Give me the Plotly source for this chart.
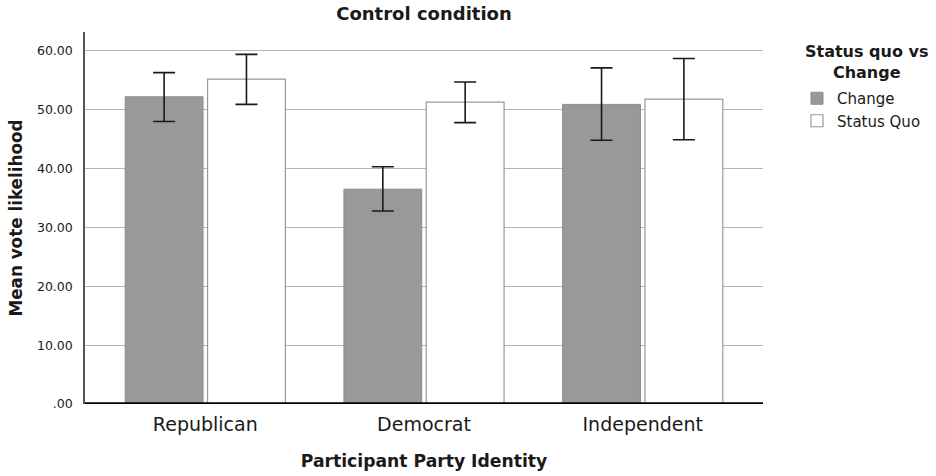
import plotly.graph_objects as go

categories = ["Republican", "Democrat", "Independent"]
change_vals = [52.2, 36.5, 50.9]
change_hi = [56.3, 40.3, 57.1]
change_lo = [48.0, 32.8, 44.8]
sq_vals = [55.2, 51.3, 51.8]
sq_hi = [59.4, 54.7, 58.7]
sq_lo = [50.9, 47.8, 44.9]
y_ticks = [0, 10, 20, 30, 40, 50, 60]
y_tick_labels = [".00", "10.00", "20.00", "30.00", "40.00", "50.00", "60.00"]

FONT = "DejaVu Sans"

def err(vals, hi, lo):
    return dict(type="data", symmetric=False,
                array=[h - v for h, v in zip(hi, vals)],
                arrayminus=[v - l for v, l in zip(vals, lo)],
                color="#1a1a1a", thickness=1.6, width=11)

fig = go.Figure()
fig.add_trace(go.Bar(name="Change", x=categories, y=change_vals,
                     marker=dict(color="#999999", line=dict(color="#8c8c8c", width=1)),
                     error_y=err(change_vals, change_hi, change_lo)))
fig.add_trace(go.Bar(name="Status Quo", x=categories, y=sq_vals,
                     marker=dict(color="#ffffff", line=dict(color="#999999", width=1.2)),
                     error_y=err(sq_vals, sq_hi, sq_lo)))

fig.update_layout(
    width=936, height=476,
    margin=dict(l=85, r=173, t=32, b=72, autoexpand=False),
    paper_bgcolor="#ffffff", plot_bgcolor="#ffffff",
    barmode="group", bargap=0.247, bargroupgap=0.055,
    font=dict(family=FONT, color="#1a1a1a", size=14),
    title=dict(text="<b>Control condition</b>", x=424 / 936, xanchor="center",
               y=1 - 14 / 476, yanchor="middle", font=dict(size=18, family=FONT)),
    showlegend=True,
    legend=dict(x=(797 - 85) / 678, xanchor="left", y=(404 - 82) / 372, yanchor="top",
                font=dict(size=15, family=FONT), traceorder="normal",
                tracegroupgap=0, bgcolor="rgba(0,0,0,0)"),
    xaxis=dict(range=[-0.55, 2.55], showgrid=False, ticks="", showline=False,
               automargin=False, ticklabelstandoff=7, tickfont=dict(size=19, family=FONT),
               title=dict(text="<b>Participant Party Identity</b>", font=dict(size=17.2, family=FONT),
                          standoff=20)),
    yaxis=dict(range=[0, 63.2], tickvals=y_ticks, ticktext=y_tick_labels,
               showgrid=True, gridcolor="#b4b4b4", gridwidth=1,
               showline=True, linecolor="#555555", linewidth=1.5,
               zeroline=False, ticks="", automargin=False, ticklabelstandoff=8,
               tickfont=dict(size=12.5, family=FONT),
               title=dict(text="<b>Mean vote likelihood</b>", font=dict(size=16.8, family=FONT),
                          standoff=10)),
    annotations=[dict(text="<b>Status quo vs<br>Change</b>", xref="paper", yref="paper",
                      x=(866 - 85) / 678, y=(404 - 40) / 372, xanchor="center", yanchor="top",
                      align="center", showarrow=False, font=dict(size=16, family=FONT))],
)

fig.add_shape(type="line", xref="paper", yref="y", x0=0, x1=1, y0=0, y1=0,
              line=dict(color="#000000", width=3.5))

fig.write_html("out.html", config={"displayModeBar": False},
               post_script="document.body.style.margin='0';")
